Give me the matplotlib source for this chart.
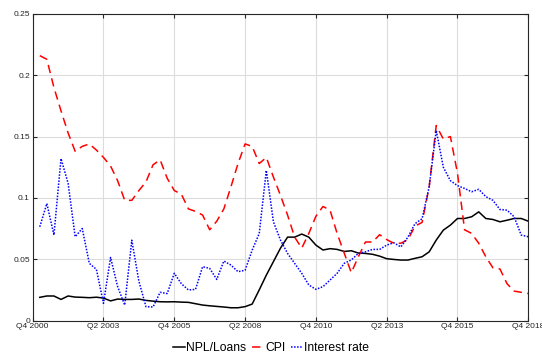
import numpy as np
import matplotlib
matplotlib.use("Agg")
import matplotlib.pyplot as plt

plt.rcParams['font.family'] = ['Liberation Sans', 'DejaVu Sans']

# quarterly observations, index 1..70 on the axis
npl = [0.0189, 0.0200, 0.0200, 0.0172, 0.0200, 0.0191, 0.0189, 0.0186, 0.0190, 0.0183,
       0.0160, 0.0175, 0.0172, 0.0172, 0.0175, 0.0164, 0.0158, 0.0153, 0.0152, 0.0153,
       0.0150, 0.0148, 0.0137, 0.0126, 0.0120, 0.0115, 0.0110, 0.0104, 0.0104, 0.0113,
       0.0134, 0.0250, 0.0370, 0.0480, 0.0590, 0.0680, 0.0680, 0.0705, 0.0680, 0.0615,
       0.0575, 0.0586, 0.0580, 0.0563, 0.0569, 0.0550, 0.0547, 0.0540, 0.0525, 0.0504,
       0.0498, 0.0493, 0.0493, 0.0507, 0.0520, 0.0560, 0.0656, 0.0737, 0.0778, 0.0832,
       0.0832, 0.0846, 0.0886, 0.0832, 0.0824, 0.0805, 0.0818, 0.0832, 0.0832, 0.0810]

cpi = [0.216, 0.213, 0.190, 0.171, 0.153, 0.138, 0.142, 0.144, 0.139, 0.133,
       0.126, 0.114, 0.098, 0.098, 0.106, 0.113, 0.127, 0.131, 0.116, 0.106,
       0.103, 0.091, 0.089, 0.086, 0.074, 0.081, 0.091, 0.109, 0.128, 0.144,
       0.142, 0.128, 0.133, 0.117, 0.102, 0.086, 0.068, 0.059, 0.071, 0.085,
       0.093, 0.090, 0.071, 0.055, 0.039, 0.052, 0.064, 0.064, 0.070, 0.066,
       0.063, 0.063, 0.066, 0.077, 0.080, 0.109, 0.159, 0.148, 0.150, 0.120,
       0.074, 0.071, 0.063, 0.052, 0.043, 0.042, 0.030, 0.024, 0.023, 0.022]

rate = [0.0764, 0.0954, 0.0697, 0.1320, 0.1120, 0.0683, 0.0750, 0.0466, 0.0417, 0.0140,
        0.0514, 0.0276, 0.0126, 0.0655, 0.0320, 0.0113, 0.0110, 0.0230, 0.0220, 0.0385,
        0.0300, 0.0249, 0.0254, 0.0439, 0.0425, 0.0335, 0.0485, 0.0452, 0.0398, 0.0410,
        0.0574, 0.0710, 0.1225, 0.0805, 0.0656, 0.0547, 0.0466, 0.0385, 0.0290, 0.0254,
        0.0276, 0.0330, 0.0385, 0.0466, 0.0494, 0.0547, 0.0560, 0.0580, 0.0580, 0.0615,
        0.0634, 0.0600, 0.0680, 0.0790, 0.0830, 0.1090, 0.1550, 0.1250, 0.1140, 0.1100,
        0.1077, 0.1050, 0.1070, 0.1010, 0.0980, 0.0905, 0.0900, 0.0846, 0.0697, 0.0683]

xtick_labels = ['Q4 2000', 'Q2 2003', 'Q4 2005', 'Q2 2008', 'Q4 2010',
                'Q2 2013', 'Q4 2015', 'Q4 2018']
ytick_labels = ['0', '0.05', '0.1', '0.15', '0.2', '0.25']

t = np.arange(1, len(npl) + 1)

fig = plt.figure(figsize=(5.42, 3.54), dpi=100)
ax = fig.add_axes([0.0603, 0.0946, 0.9144, 0.866])

ax.plot(t, npl, color='black', lw=1.1, label='NPL/Loans')
ax.plot(t, cpi, color='red', lw=1.1, ls=(0, (5.5, 3.5)), label='CPI')
ax.plot(t, rate, color='blue', lw=1.1, ls=(0, (1, 1)), label='Interest rate')

ax.set_xlim(0, 70)
ax.set_ylim(0, 0.25)
ax.set_xticks(np.arange(0, 71, 10))
ax.set_xticklabels(xtick_labels)
ax.set_yticks(np.linspace(0, 0.25, 6))
ax.set_yticklabels(ytick_labels)

ax.grid(True, color='#dcdcdc', lw=0.8)
ax.set_axisbelow(True)
ax.tick_params(direction='in', length=3, width=0.8, labelsize=6.0,
               colors='#262626', top=True, right=True, pad=2)
for s in ax.spines.values():
    s.set_color('#262626')
    s.set_linewidth(0.8)

fig.legend(loc='lower center', bbox_to_anchor=(0.5, -0.025), ncol=3,
           frameon=False, fontsize=8.7, handlelength=1.0, handletextpad=0.1,
           columnspacing=0.45, borderpad=0.2)

fig.savefig('out.png', dpi=100)
